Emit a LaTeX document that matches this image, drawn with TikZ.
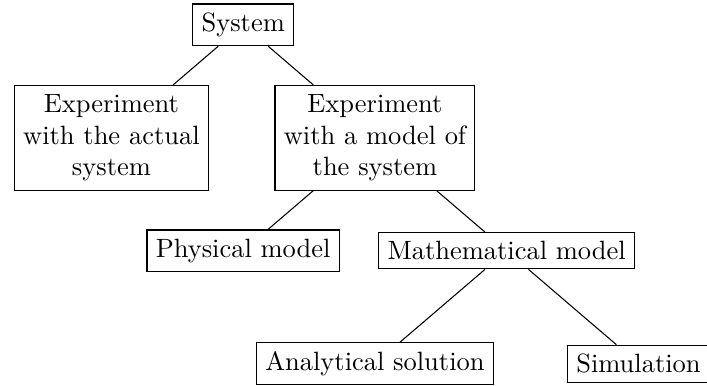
\documentclass[tikz,border=0pt]{standalone}
\usetikzlibrary{positioning}

\begin{document}
\begin{tikzpicture}[
  node distance=1.5cm and 1.75cm,
  on grid,
  box/.style={
    draw,
    align=center
  },
  link/.style={thin}
]
  \useasboundingbox (-3.23,-4.79) rectangle (6.16,0.33);
  \node[box] (system) {System};
  \node[box,below left=of system] (actual)
    {Experiment\\with the actual\\system};
  \node[box,below right=of system] (model)
    {Experiment\\with a model of\\the system};
  \node[box,below left=of model] (physical) {Physical model};
  \node[box,below right=of model] (math) {Mathematical model};
  \node[box,below left=of math] (analytic) {Analytical solution};
  \node[box,below right=of math] (simulation) {Simulation};
  \draw[link] (system) -- (actual);
  \draw[link] (system) -- (model);
  \draw[link] (model) -- (physical);
  \draw[link] (model) -- (math);
  \draw[link] (math) -- (analytic);
  \draw[link] (math) -- (simulation);
\end{tikzpicture}
\end{document}
